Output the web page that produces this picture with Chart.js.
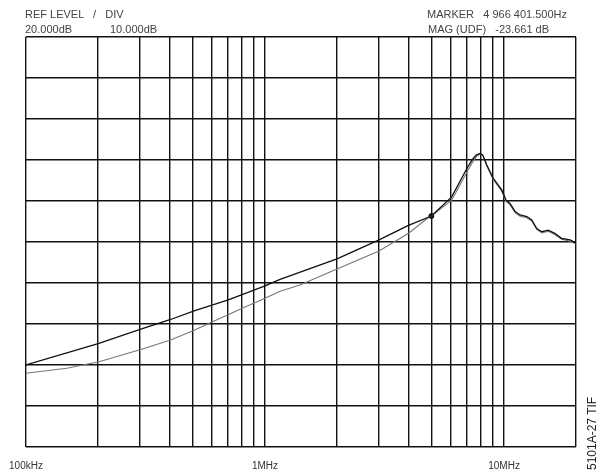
<!DOCTYPE html>
<html>
<head>
<meta charset="utf-8">
<script src="https://cdn.jsdelivr.net/npm/chart.js@4.4.0/dist/chart.umd.min.js"></script>
<style>
  html, body { margin: 0; padding: 0; background: #fff; }
  #wrap { position: relative; width: 603px; height: 476px; overflow: hidden; background: #fff; }
  canvas { position: absolute; left: 0; top: 0; }
  .t { position: absolute; font-family: "Liberation Sans", Arial, sans-serif; font-size: 11px; color: #444; white-space: pre; line-height: 12px; }
  #tif { position: absolute; left: 586px; top: 470px; transform-origin: 0 0; transform: rotate(-90deg); font-family: "Liberation Sans", Arial, sans-serif; font-size: 12px; color: #222; white-space: pre; line-height: 13px; }
</style>
</head>
<body>
<div id="wrap">
  <canvas id="c" width="603" height="476"></canvas>
  <div class="t" style="left:25px;top:8px;">REF LEVEL   /   DIV</div>
  <div class="t" style="left:25px;top:23px;">20.000dB</div>
  <div class="t" style="left:110px;top:23px;">10.000dB</div>
  <div class="t" style="left:427px;top:8px;">MARKER   4 966 401.500Hz</div>
  <div class="t" style="left:428px;top:23px;">MAG (UDF)   -23.661 dB</div>
  <div id="tif">5101A-27 TIF</div>
</div>
<script>
// Frequencies in MHz, magnitudes in dB
const freqA = [0.1, 0.202, 0.3, 0.403, 0.505, 0.702, 1.0, 1.156, 2.0, 3.0, 3.96, 4.966, 6.04, 7.0, 7.35, 7.64, 7.94, 8.15, 8.47, 9.0, 9.78, 10.2, 10.59, 11.13, 11.67, 12.45, 13.06, 13.7, 14.4, 15.3, 16.3, 17.4, 18.9, 20.0];
const magA  = [-60.0, -54.7, -51.3, -48.9, -46.8, -44.1, -40.7, -39.1, -34.1, -29.5, -26.0, -23.66, -19.0, -12.0, -10.0, -8.8, -8.4, -8.8, -11.2, -14.4, -17.3, -19.8, -20.6, -22.6, -23.4, -23.8, -24.6, -26.7, -27.5, -27.1, -27.9, -29.1, -29.5, -30.3];

const freqB = [0.1, 0.148, 0.202, 0.3, 0.403, 0.505, 0.606, 0.799, 1.0, 1.156, 1.40, 2.0, 3.0, 4.0, 4.81, 4.966, 6.04, 7.0, 7.35, 7.7, 8.0, 8.15, 8.47, 9.0, 9.78, 10.2, 10.59, 11.13, 11.67, 12.45, 13.06, 13.7, 14.4, 15.3, 16.3, 17.4, 18.9, 20.0];
const magB  = [-62.0, -60.8, -59.2, -56.3, -53.9, -51.5, -49.4, -46.2, -43.7, -42.0, -40.5, -36.6, -32.2, -27.8, -24.1, -23.66, -19.8, -12.9, -10.7, -9.0, -8.5, -8.9, -11.5, -14.7, -17.6, -20.1, -20.9, -22.9, -23.7, -24.1, -24.9, -26.9, -27.8, -27.4, -28.2, -29.3, -29.8, -30.5];

const markerFreq = [4.966];
const markerMag = [-23.66];

const xTicks = [0.1, 0.2, 0.3, 0.4, 0.5, 0.6, 0.7, 0.8, 0.9, 1, 2, 3, 4, 5, 6, 7, 8, 9, 10, 20];
const xTickLabels = { 0.1: '100kHz', 1: '1MHz', 10: '10MHz' };
const yMin = -80, yMax = 20, yStep = 10;

const toPts = (xs, ys) => xs.map((x, i) => ({ x: x, y: ys[i] }));

new Chart(document.getElementById('c'), {
  type: 'line',
  data: {
    datasets: [
      { data: toPts(freqA, magA), borderColor: '#111', borderWidth: 1.3, pointRadius: 0, fill: false, tension: 0 },
      { data: toPts(freqB, magB), borderColor: '#777', borderWidth: 1.1, pointRadius: 0, fill: false, tension: 0 },
      { data: toPts(markerFreq, markerMag), borderColor: '#111', backgroundColor: '#111', pointRadius: 2.5, showLine: false }
    ]
  },
  options: {
    responsive: false,
    animation: false,
    events: [],
    layout: { padding: { left: 26, right: 27, top: 37, bottom: 0 } },
    plugins: { legend: { display: false }, tooltip: { enabled: false } },
    scales: {
      x: {
        type: 'logarithmic',
        min: 0.1, max: 20,
        afterBuildTicks: (s) => { s.ticks = xTicks.map(v => ({ value: v })); },
        afterFit: (s) => { s.height = 29; s.paddingLeft = 0; s.paddingRight = 0; },
        grid: { color: '#111', lineWidth: 1.4, drawTicks: false },
        border: { display: false },
        ticks: {
          autoSkip: false, maxRotation: 0, minRotation: 0, padding: 13,
          color: '#333', font: { family: '"Liberation Sans", Arial, sans-serif', size: 10 },
          callback: (v) => xTickLabels[v] || ''
        }
      },
      y: {
        type: 'linear',
        min: yMin, max: yMax,
        afterFit: (s) => { s.width = 0; s.paddingTop = 0; s.paddingBottom = 0; },
        ticks: { display: false, stepSize: yStep },
        grid: { color: '#111', lineWidth: 1.4, drawTicks: false },
        border: { display: false }
      }
    }
  }
});
</script>
</body>
</html>
